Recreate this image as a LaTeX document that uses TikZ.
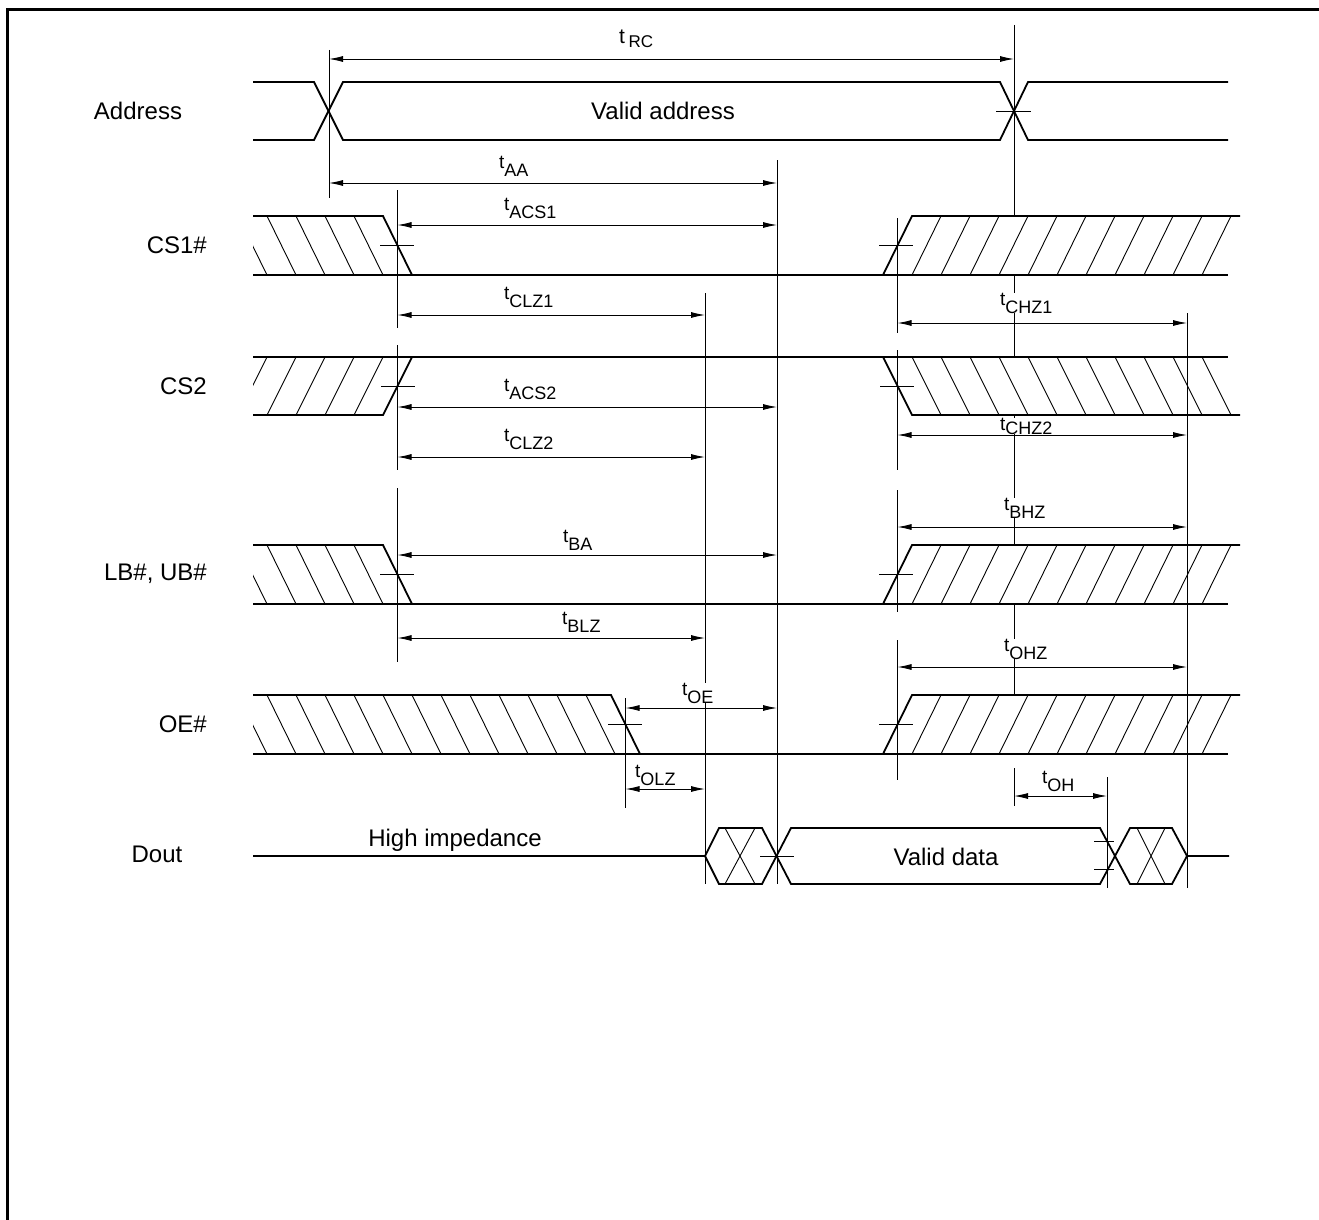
\documentclass[tikz,border=0pt]{standalone}
\usepackage{fontspec}
\setmainfont{Liberation Sans}
\usetikzlibrary{arrows.meta}

% t with a lowered index
\newcommand{\tsub}[2][8pt]{{\fontsize{19}{19}\selectfont t\raisebox{-#1}{\fontsize{18}{18}\selectfont #2}}}

\tikzset{
  sig/.style={line width=1.8pt, line join=miter},
  hatchline/.style={line width=0.9pt},
  vline/.style={line width=1pt},
  edgetick/.style={line width=0.9pt},
  dim/.style={line width=0.9pt, {Latex[length=14pt,width=6pt]}-{Latex[length=14pt,width=6pt]}},
  lbl/.style={font=\fontsize{24}{28}\selectfont, inner sep=1pt},
  tlbl/.style={anchor=base west, fill=white, inner sep=0pt},
}

\begin{document}
\begin{tikzpicture}[x=1pt,y=-1pt]
\useasboundingbox (0,0) rectangle (1319,1220);
\draw[line width=3pt] (7,1240) -- (7,10) -- (1340,10);

% cycle end line, runs behind the hatching
\draw[vline] (1014,25) -- (1014,695);

%%% hatched zones
% CS1# and LB#,UB#
\foreach \hi/\lo in {216/275, 545/604} {
  \begin{scope}
    \clip (253,\hi) -- (383,\hi) -- (412,\lo) -- (253,\lo) -- cycle;
    \fill[white] (253,\hi) rectangle (412,\lo);
    \foreach \x in {209,238,...,354} \draw[hatchline] (\x,\hi) -- ++(29,59);
  \end{scope}
  \begin{scope}
    \clip (883,\lo) -- (912,\hi) -- (1240,\hi) -- (1228,\lo) -- cycle;
    \fill[white] (883,\hi) rectangle (1240,\lo);
    \foreach \x in {912,941,...,1202} \draw[hatchline] (\x,\lo) -- ++(29,-59);
  \end{scope}
  \draw[sig] (253,\hi) -- (383,\hi) -- (412,\lo);
  \draw[sig] (253,\lo) -- (1228,\lo);
  \draw[sig] (883,\lo) -- (912,\hi) -- (1240,\hi);
  \draw[edgetick] (380,\hi+29.5) -- (414,\hi+29.5);
  \draw[edgetick] (879,\hi+29.5) -- (913,\hi+29.5);
}

% CS2
\begin{scope}
  \clip (253,357) -- (412,357) -- (383,415) -- (253,415) -- cycle;
  \fill[white] (253,357) rectangle (412,415);
  \foreach \x in {209,238,...,354} \draw[hatchline] (\x,415) -- ++(29,-58);
\end{scope}
\begin{scope}
  \clip (883,357) -- (1228,357) -- (1240,415) -- (912,415) -- cycle;
  \fill[white] (883,357) rectangle (1240,415);
  \foreach \x in {912,941,...,1202} \draw[hatchline] (\x,357) -- ++(29,58);
\end{scope}
\draw[sig] (253,357) -- (1228,357);
\draw[sig] (253,415) -- (383,415) -- (412,357);
\draw[sig] (883,357) -- (912,415) -- (1240,415);
\draw[edgetick] (381,386) -- (415,386);
\draw[edgetick] (880,386) -- (914,386);

% OE#
\begin{scope}
  \clip (253,695) -- (611,695) -- (640,754) -- (253,754) -- cycle;
  \fill[white] (253,695) rectangle (640,754);
  \foreach \x in {238,267,...,586} \draw[hatchline] (\x,695) -- ++(29,59);
\end{scope}
\begin{scope}
  \clip (883,754) -- (912,695) -- (1240,695) -- (1228,754) -- cycle;
  \fill[white] (883,695) rectangle (1240,754);
  \foreach \x in {912,941,...,1202} \draw[hatchline] (\x,754) -- ++(29,-59);
\end{scope}
\draw[sig] (253,695) -- (611,695) -- (640,754);
\draw[sig] (253,754) -- (1228,754);
\draw[sig] (883,754) -- (912,695) -- (1240,695);
\draw[edgetick] (608,724.5) -- (642,724.5);
\draw[edgetick] (879,724.5) -- (913,724.5);

% Address
\draw[sig] (253,82) -- (314,82) -- (343,140) -- (1000,140) -- (1028,82) -- (1228,82);
\draw[sig] (253,140) -- (314,140) -- (343,82) -- (1000,82) -- (1028,140) -- (1228,140);
\draw[edgetick] (996,111) -- (1031,111);

% Dout
\draw[sig] (253,856) -- (705,856) -- (719,828) -- (762,828) -- (791,884) -- (1100,884) -- (1115,856)
  -- (1130,884) -- (1172,884) -- (1187,856) -- (1229,856);
\draw[sig] (705,856) -- (719,884) -- (762,884) -- (791,828) -- (1100,828) -- (1115,856)
  -- (1130,828) -- (1172,828) -- (1187,856);
\draw[hatchline] (725,828) -- (755,884) (755,828) -- (725,884);
\draw[hatchline] (1137,828) -- (1165,884) (1165,828) -- (1137,884);
\draw[edgetick] (760,856) -- (794,856);
\draw[edgetick] (1094,841) -- (1114,841) (1094,869) -- (1114,869);

%%% reference lines
\draw[vline] (329,50) -- (329,198);
\draw[vline] (397.5,190) -- (397.5,328) (397.5,345) -- (397.5,470) (397.5,488) -- (397.5,662);
\draw[vline] (897.5,218) -- (897.5,333) (897.5,350) -- (897.5,470) (897.5,490) -- (897.5,612)
  (897.5,640) -- (897.5,780);
\draw[vline] (625.5,698) -- (625.5,808);
\draw[vline] (705,293) -- (705,884);
\draw[vline] (777,160) -- (777,884);
\draw[vline] (1014,768) -- (1014,806);
\draw[vline] (1107,777) -- (1107,888);
\draw[vline] (1187,313) -- (1187,888);

%%% timings
\draw[dim] (329,59) -- (1014,59);
\draw[dim] (329,183) -- (777,183);
\draw[dim] (397.5,225) -- (777,225);
\draw[dim] (397.5,315) -- (705,315);
\draw[dim] (897.5,323) -- (1187,323);
\draw[dim] (397.5,407) -- (777,407);
\draw[dim] (897.5,435) -- (1187,435);
\draw[dim] (397.5,457) -- (705,457);
\draw[dim] (897.5,527) -- (1187,527);
\draw[dim] (397.5,555) -- (777,555);
\draw[dim] (397.5,638) -- (705,638);
\draw[dim] (897.5,667) -- (1187,667);
\draw[dim] (625.5,708) -- (777,708);
\draw[dim] (625.5,789) -- (705,789);
\draw[dim] (1014,796) -- (1107,796);

\node[tlbl] (trc) at (619,44) {\fontsize{21}{21}\selectfont t\,\raisebox{-4pt}{\fontsize{17}{17}\selectfont RC}};
\node[tlbl] (taa) at (499,168) {\tsub{AA}};
\node[tlbl] (tacs1) at (504,210) {\tsub{ACS1}};
\node[tlbl] (tclz1) at (504,299) {\tsub{CLZ1}};
\node[tlbl] (tchz1) at (1000,305) {\tsub{CHZ1}};
\node[tlbl] (tacs2) at (504,391) {\tsub{ACS2}};
\node[tlbl] (tchz2) at (1000,430) {\tsub[4pt]{CHZ2}};
\node[tlbl] (tclz2) at (504,441) {\tsub{CLZ2}};
\node[tlbl] (tbhz) at (1004,510) {\tsub{BHZ}};
\node[tlbl] (tba) at (563,542) {\tsub{BA}};
\node[tlbl] (tblz) at (562,624) {\tsub{BLZ}};
\node[tlbl] (tohz) at (1004,651) {\tsub{OHZ}};
\node[tlbl] (toe) at (682,695) {\tsub{OE}};
\node[tlbl] (tolz) at (635,777) {\tsub{OLZ}};
\node[tlbl] (toh) at (1042,783) {\tsub{OH}};

%%% signal names and texts
\node[lbl] (addr) at (138,111) {Address};
\node[lbl, anchor=east] (cs1) at (208,245) {CS1\#};
\node[lbl, anchor=east] (cs2) at (208,386) {CS2};
\node[lbl, anchor=east] (lbub) at (208,574) {LB\#, UB\#};
\node[lbl, anchor=east] (oe) at (208,724) {OE\#};
\node[lbl] (dout) at (157,854) {Dout};
\node[lbl] (vaddr) at (663,111) {Valid address};
\node[lbl] (himp) at (455,840) {High impedance};
\node[lbl] (vdata) at (946,857) {Valid data};
\end{tikzpicture}
\end{document}
